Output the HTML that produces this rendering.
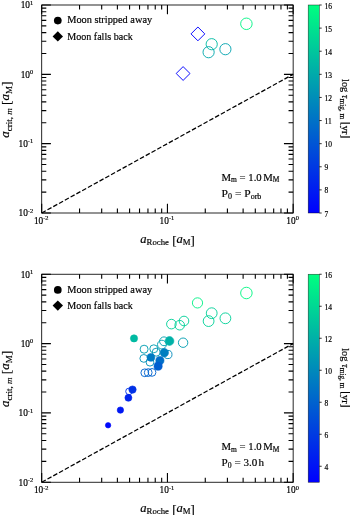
<!DOCTYPE html>
<html><head><meta charset="utf-8"><title>Figure</title>
<style>
html,body{margin:0;padding:0;background:#fff;}
body{width:350px;height:515px;overflow:hidden;}
svg{display:block;}
svg text{font-family:"Liberation Serif", "DejaVu Serif", serif;fill:#000;stroke:#000;stroke-width:0.18px;}
</style></head><body>
<svg width="350" height="515" viewBox="0 0 350 515">
<defs><linearGradient id="wint" x1="0" y1="1" x2="0" y2="0"><stop offset="0" stop-color="#0000ff"/><stop offset="1" stop-color="#00ff80"/></linearGradient></defs>
<rect width="350" height="515" fill="#fff"/>
<g id="p1">
<line x1="41.70" y1="213.00" x2="293.15" y2="74.33" stroke="#000" stroke-width="1.25" stroke-dasharray="4.6 2.0"/>
<path d="M197.9 27.0 L204.8 33.9 L197.9 40.8 L191.0 33.9 Z" fill="none" stroke="#0000ff" stroke-width="0.95"/>
<path d="M183.1 66.6 L190.0 73.5 L183.1 80.4 L176.2 73.5 Z" fill="none" stroke="#0000ff" stroke-width="0.95"/>
<circle cx="246.4" cy="23.8" r="5.75" fill="none" stroke="#00f485" stroke-width="0.92"/>
<circle cx="211.7" cy="44.2" r="5.60" fill="none" stroke="#00bba2" stroke-width="0.92"/>
<circle cx="208.6" cy="52.2" r="5.60" fill="none" stroke="#00a7ab" stroke-width="0.92"/>
<circle cx="225.4" cy="49.2" r="5.60" fill="none" stroke="#00a2ae" stroke-width="0.92"/>
<path d="M41.70 213.00v-9.2M41.70 5.00v9.2M79.55 213.00v-4.6M79.55 5.00v4.6M101.69 213.00v-4.6M101.69 5.00v4.6M117.39 213.00v-4.6M117.39 5.00v4.6M129.58 213.00v-4.6M129.58 5.00v4.6M139.53 213.00v-4.6M139.53 5.00v4.6M147.95 213.00v-4.6M147.95 5.00v4.6M155.24 213.00v-4.6M155.24 5.00v4.6M161.67 213.00v-4.6M161.67 5.00v4.6M167.43 213.00v-9.2M167.43 5.00v9.2M205.27 213.00v-4.6M205.27 5.00v4.6M227.41 213.00v-4.6M227.41 5.00v4.6M243.12 213.00v-4.6M243.12 5.00v4.6M255.30 213.00v-4.6M255.30 5.00v4.6M265.26 213.00v-4.6M265.26 5.00v4.6M273.67 213.00v-4.6M273.67 5.00v4.6M280.97 213.00v-4.6M280.97 5.00v4.6M287.40 213.00v-4.6M287.40 5.00v4.6M293.15 213.00v-9.2M293.15 5.00v9.2M41.70 213.00h9.2M293.15 213.00h-9.2M41.70 192.13h4.6M293.15 192.13h-4.6M41.70 179.92h4.6M293.15 179.92h-4.6M41.70 171.26h4.6M293.15 171.26h-4.6M41.70 164.54h4.6M293.15 164.54h-4.6M41.70 159.05h4.6M293.15 159.05h-4.6M41.70 154.41h4.6M293.15 154.41h-4.6M41.70 150.39h4.6M293.15 150.39h-4.6M41.70 146.84h4.6M293.15 146.84h-4.6M41.70 143.67h9.2M293.15 143.67h-9.2M41.70 122.80h4.6M293.15 122.80h-4.6M41.70 110.59h4.6M293.15 110.59h-4.6M41.70 101.92h4.6M293.15 101.92h-4.6M41.70 95.20h4.6M293.15 95.20h-4.6M41.70 89.71h4.6M293.15 89.71h-4.6M41.70 85.07h4.6M293.15 85.07h-4.6M41.70 81.05h4.6M293.15 81.05h-4.6M41.70 77.51h4.6M293.15 77.51h-4.6M41.70 74.33h9.2M293.15 74.33h-9.2M41.70 53.46h4.6M293.15 53.46h-4.6M41.70 41.25h4.6M293.15 41.25h-4.6M41.70 32.59h4.6M293.15 32.59h-4.6M41.70 25.87h4.6M293.15 25.87h-4.6M41.70 20.38h4.6M293.15 20.38h-4.6M41.70 15.74h4.6M293.15 15.74h-4.6M41.70 11.72h4.6M293.15 11.72h-4.6M41.70 8.17h4.6M293.15 8.17h-4.6M41.70 5.00h9.2M293.15 5.00h-9.2" stroke="#000" stroke-width="1.1" fill="none"/>
<rect x="41.70" y="5.00" width="251.45" height="208.00" fill="none" stroke="#000" stroke-width="0.85"/>
<text x="41.2" y="223.9" text-anchor="middle" font-size="9.3">10<tspan font-size="6.4" dy="-3.5">-2</tspan></text>
<text x="166.9" y="223.9" text-anchor="middle" font-size="9.3">10<tspan font-size="6.4" dy="-3.5">-1</tspan></text>
<text x="292.6" y="223.9" text-anchor="middle" font-size="9.3">10<tspan font-size="6.4" dy="-3.5">0</tspan></text>
<text x="33.2" y="216.2" text-anchor="end" font-size="9.3">10<tspan font-size="6.4" dy="-3.5">-2</tspan></text>
<text x="33.2" y="146.9" text-anchor="end" font-size="9.3">10<tspan font-size="6.4" dy="-3.5">-1</tspan></text>
<text x="33.2" y="77.6" text-anchor="end" font-size="9.3">10<tspan font-size="6.4" dy="-3.5">0</tspan></text>
<text x="33.2" y="8.2" text-anchor="end" font-size="9.3">10<tspan font-size="6.4" dy="-3.5">1</tspan></text>
<text x="140.3" y="243.3" font-size="12.8" textLength="54.5" lengthAdjust="spacingAndGlyphs"><tspan font-style="italic">a</tspan><tspan font-size="8.9" dy="2.1">Roche</tspan><tspan dy="-0.3" font-size="13"> [</tspan><tspan dy="-1.8" font-style="italic">a</tspan><tspan font-size="8.9" dy="2.1">M</tspan><tspan dy="-0.3" font-size="13">]</tspan></text>
<text transform="translate(9.4 137.8) rotate(-90)" font-size="12.8" textLength="56.3" lengthAdjust="spacingAndGlyphs"><tspan font-style="italic">a</tspan><tspan font-size="8.9" dy="2.1">crit, </tspan><tspan font-size="8.9" font-style="italic">m</tspan><tspan dy="-0.3" font-size="13"> [</tspan><tspan dy="-1.8" font-style="italic">a</tspan><tspan font-size="8.9" dy="2.1">M</tspan><tspan dy="-0.3" font-size="13">]</tspan></text>
<circle cx="57.8" cy="20.6" r="3.85" fill="#000"/>
<path d="M57.8 31.2L63.0 36.4L57.8 41.6L52.6 36.4Z" fill="#000"/>
<text x="67.2" y="23.3" font-size="10.2" textLength="85.0" lengthAdjust="spacingAndGlyphs">Moon stripped away</text>
<text x="67.2" y="39.6" font-size="10.2" textLength="65.5" lengthAdjust="spacingAndGlyphs">Moon falls back</text>
<text x="221.6" y="180.6" font-size="10.6" textLength="57.8" lengthAdjust="spacingAndGlyphs">M<tspan font-size="7.4" dy="1.7">m</tspan><tspan dy="-1.7"> = 1.0</tspan><tspan dx="1.5">M</tspan><tspan font-size="7.4" dy="1.7">M</tspan></text>
<text x="221.6" y="197.1" font-size="10.6" textLength="39.8" lengthAdjust="spacingAndGlyphs">P<tspan font-size="7.4" dy="1.7">0</tspan><tspan dy="-1.7"> = P</tspan><tspan font-size="7.4" dy="1.7">orb</tspan></text>
<rect x="308.2" y="5.00" width="11.10" height="208.00" fill="url(#wint)"/>
<rect x="308.2" y="5.00" width="11.10" height="208.00" fill="none" stroke="#000" stroke-width="0.55" stroke-opacity="0.75"/>
<text x="324.6" y="216.5" font-size="7.5">7</text>
<text x="324.6" y="193.4" font-size="7.5">8</text>
<text x="324.6" y="170.3" font-size="7.5">9</text>
<text x="324.6" y="147.2" font-size="7.5">10</text>
<text x="324.6" y="124.1" font-size="7.5">11</text>
<text x="324.6" y="100.9" font-size="7.5">12</text>
<text x="324.6" y="77.8" font-size="7.5">13</text>
<text x="324.6" y="54.7" font-size="7.5">14</text>
<text x="324.6" y="31.6" font-size="7.5">15</text>
<text x="324.6" y="8.5" font-size="7.5">16</text>
<path d="M319.30 213.00h2.4M319.30 189.89h2.4M319.30 166.78h2.4M319.30 143.67h2.4M319.30 120.56h2.4M319.30 97.44h2.4M319.30 74.33h2.4M319.30 51.22h2.4M319.30 28.11h2.4M319.30 5.00h2.4" stroke="#000" stroke-width="0.8" fill="none"/>
<text transform="translate(342.4 79.0) rotate(90)" font-size="10.4" textLength="59.3" lengthAdjust="spacingAndGlyphs">log <tspan font-style="italic">τ</tspan><tspan font-size="7.3" dy="1.9">mig, m</tspan><tspan dy="-1.6" font-size="11.5"> [</tspan><tspan dy="-0.3">yr</tspan><tspan dy="0.3" font-size="11.5">]</tspan></text>
</g>
<g id="p2">
<line x1="41.70" y1="482.25" x2="293.15" y2="343.58" stroke="#000" stroke-width="1.25" stroke-dasharray="4.6 2.0"/>
<circle cx="246.4" cy="293.0" r="5.75" fill="none" stroke="#00f783" stroke-width="0.92"/>
<circle cx="197.5" cy="302.9" r="5.10" fill="none" stroke="#00f186" stroke-width="0.92"/>
<circle cx="211.7" cy="313.2" r="5.40" fill="none" stroke="#00d097" stroke-width="0.92"/>
<circle cx="208.6" cy="321.1" r="5.40" fill="none" stroke="#00d097" stroke-width="0.92"/>
<circle cx="225.4" cy="318.3" r="5.40" fill="none" stroke="#00d097" stroke-width="0.92"/>
<circle cx="184.0" cy="321.0" r="4.80" fill="none" stroke="#00d097" stroke-width="0.92"/>
<circle cx="179.7" cy="325.2" r="4.80" fill="none" stroke="#00d097" stroke-width="0.92"/>
<circle cx="171.4" cy="324.1" r="4.80" fill="none" stroke="#00d097" stroke-width="0.92"/>
<circle cx="183.1" cy="342.7" r="4.70" fill="none" stroke="#009db1" stroke-width="0.92"/>
<circle cx="164.0" cy="341.3" r="4.40" fill="none" stroke="#00a1af" stroke-width="0.92"/>
<circle cx="161.9" cy="344.6" r="4.40" fill="none" stroke="#009db1" stroke-width="0.92"/>
<circle cx="169.5" cy="341.0" r="4.40" fill="#00b1a7" stroke="#00b1a7" stroke-width="0.6"/>
<circle cx="134.0" cy="338.4" r="3.60" fill="#00baa2" stroke="#00baa2" stroke-width="0.6"/>
<circle cx="144.1" cy="349.2" r="4.00" fill="none" stroke="#009db1" stroke-width="0.92"/>
<circle cx="153.8" cy="348.8" r="4.00" fill="none" stroke="#009db1" stroke-width="0.92"/>
<circle cx="156.2" cy="352.2" r="4.00" fill="none" stroke="#0095b4" stroke-width="0.92"/>
<circle cx="167.9" cy="354.5" r="4.10" fill="none" stroke="#0089ba" stroke-width="0.92"/>
<circle cx="143.8" cy="358.4" r="3.90" fill="none" stroke="#0091b6" stroke-width="0.92"/>
<circle cx="150.0" cy="362.2" r="3.90" fill="none" stroke="#008db8" stroke-width="0.92"/>
<circle cx="164.3" cy="352.7" r="4.20" fill="#007ec0" stroke="#007ec0" stroke-width="0.6"/>
<circle cx="150.9" cy="357.4" r="3.90" fill="#007ac2" stroke="#007ac2" stroke-width="0.6"/>
<circle cx="159.9" cy="360.5" r="4.10" fill="#006ec8" stroke="#006ec8" stroke-width="0.6"/>
<circle cx="158.1" cy="366.2" r="4.10" fill="#005ed0" stroke="#005ed0" stroke-width="0.6"/>
<circle cx="144.8" cy="372.8" r="3.90" fill="none" stroke="#0062ce" stroke-width="0.92"/>
<circle cx="148.2" cy="372.6" r="3.90" fill="none" stroke="#0062ce" stroke-width="0.92"/>
<circle cx="152.0" cy="372.4" r="3.90" fill="none" stroke="#0062ce" stroke-width="0.92"/>
<circle cx="129.0" cy="391.4" r="3.30" fill="none" stroke="#0031e6" stroke-width="0.92"/>
<circle cx="132.5" cy="389.6" r="3.70" fill="#0031e6" stroke="#0031e6" stroke-width="0.6"/>
<circle cx="128.4" cy="397.8" r="3.50" fill="#0023ed" stroke="#0023ed" stroke-width="0.6"/>
<circle cx="120.4" cy="410.1" r="3.20" fill="#0018f3" stroke="#0018f3" stroke-width="0.6"/>
<circle cx="108.1" cy="425.3" r="2.70" fill="#0008fb" stroke="#0008fb" stroke-width="0.6"/>
<path d="M41.70 482.25v-9.2M41.70 274.25v9.2M79.55 482.25v-4.6M79.55 274.25v4.6M101.69 482.25v-4.6M101.69 274.25v4.6M117.39 482.25v-4.6M117.39 274.25v4.6M129.58 482.25v-4.6M129.58 274.25v4.6M139.53 482.25v-4.6M139.53 274.25v4.6M147.95 482.25v-4.6M147.95 274.25v4.6M155.24 482.25v-4.6M155.24 274.25v4.6M161.67 482.25v-4.6M161.67 274.25v4.6M167.43 482.25v-9.2M167.43 274.25v9.2M205.27 482.25v-4.6M205.27 274.25v4.6M227.41 482.25v-4.6M227.41 274.25v4.6M243.12 482.25v-4.6M243.12 274.25v4.6M255.30 482.25v-4.6M255.30 274.25v4.6M265.26 482.25v-4.6M265.26 274.25v4.6M273.67 482.25v-4.6M273.67 274.25v4.6M280.97 482.25v-4.6M280.97 274.25v4.6M287.40 482.25v-4.6M287.40 274.25v4.6M293.15 482.25v-9.2M293.15 274.25v9.2M41.70 482.25h9.2M293.15 482.25h-9.2M41.70 461.38h4.6M293.15 461.38h-4.6M41.70 449.17h4.6M293.15 449.17h-4.6M41.70 440.51h4.6M293.15 440.51h-4.6M41.70 433.79h4.6M293.15 433.79h-4.6M41.70 428.30h4.6M293.15 428.30h-4.6M41.70 423.66h4.6M293.15 423.66h-4.6M41.70 419.64h4.6M293.15 419.64h-4.6M41.70 416.09h4.6M293.15 416.09h-4.6M41.70 412.92h9.2M293.15 412.92h-9.2M41.70 392.05h4.6M293.15 392.05h-4.6M41.70 379.84h4.6M293.15 379.84h-4.6M41.70 371.17h4.6M293.15 371.17h-4.6M41.70 364.45h4.6M293.15 364.45h-4.6M41.70 358.96h4.6M293.15 358.96h-4.6M41.70 354.32h4.6M293.15 354.32h-4.6M41.70 350.30h4.6M293.15 350.30h-4.6M41.70 346.76h4.6M293.15 346.76h-4.6M41.70 343.58h9.2M293.15 343.58h-9.2M41.70 322.71h4.6M293.15 322.71h-4.6M41.70 310.50h4.6M293.15 310.50h-4.6M41.70 301.84h4.6M293.15 301.84h-4.6M41.70 295.12h4.6M293.15 295.12h-4.6M41.70 289.63h4.6M293.15 289.63h-4.6M41.70 284.99h4.6M293.15 284.99h-4.6M41.70 280.97h4.6M293.15 280.97h-4.6M41.70 277.42h4.6M293.15 277.42h-4.6M41.70 274.25h9.2M293.15 274.25h-9.2" stroke="#000" stroke-width="1.1" fill="none"/>
<rect x="41.70" y="274.25" width="251.45" height="208.00" fill="none" stroke="#000" stroke-width="0.85"/>
<text x="41.2" y="493.1" text-anchor="middle" font-size="9.3">10<tspan font-size="6.4" dy="-3.5">-2</tspan></text>
<text x="166.9" y="493.1" text-anchor="middle" font-size="9.3">10<tspan font-size="6.4" dy="-3.5">-1</tspan></text>
<text x="292.6" y="493.1" text-anchor="middle" font-size="9.3">10<tspan font-size="6.4" dy="-3.5">0</tspan></text>
<text x="33.2" y="485.5" text-anchor="end" font-size="9.3">10<tspan font-size="6.4" dy="-3.5">-2</tspan></text>
<text x="33.2" y="416.2" text-anchor="end" font-size="9.3">10<tspan font-size="6.4" dy="-3.5">-1</tspan></text>
<text x="33.2" y="346.8" text-anchor="end" font-size="9.3">10<tspan font-size="6.4" dy="-3.5">0</tspan></text>
<text x="33.2" y="277.5" text-anchor="end" font-size="9.3">10<tspan font-size="6.4" dy="-3.5">1</tspan></text>
<text x="140.3" y="511.7" font-size="12.8" textLength="54.5" lengthAdjust="spacingAndGlyphs"><tspan font-style="italic">a</tspan><tspan font-size="8.9" dy="2.1">Roche</tspan><tspan dy="-0.3" font-size="13"> [</tspan><tspan dy="-1.8" font-style="italic">a</tspan><tspan font-size="8.9" dy="2.1">M</tspan><tspan dy="-0.3" font-size="13">]</tspan></text>
<text transform="translate(9.4 407.1) rotate(-90)" font-size="12.8" textLength="56.3" lengthAdjust="spacingAndGlyphs"><tspan font-style="italic">a</tspan><tspan font-size="8.9" dy="2.1">crit, </tspan><tspan font-size="8.9" font-style="italic">m</tspan><tspan dy="-0.3" font-size="13"> [</tspan><tspan dy="-1.8" font-style="italic">a</tspan><tspan font-size="8.9" dy="2.1">M</tspan><tspan dy="-0.3" font-size="13">]</tspan></text>
<circle cx="57.8" cy="289.9" r="3.85" fill="#000"/>
<path d="M57.8 300.4L63.0 305.6L57.8 310.8L52.6 305.6Z" fill="#000"/>
<text x="67.2" y="292.6" font-size="10.2" textLength="85.0" lengthAdjust="spacingAndGlyphs">Moon stripped away</text>
<text x="67.2" y="308.9" font-size="10.2" textLength="65.5" lengthAdjust="spacingAndGlyphs">Moon falls back</text>
<text x="221.6" y="449.9" font-size="10.6" textLength="57.8" lengthAdjust="spacingAndGlyphs">M<tspan font-size="7.4" dy="1.7">m</tspan><tspan dy="-1.7"> = 1.0</tspan><tspan dx="1.5">M</tspan><tspan font-size="7.4" dy="1.7">M</tspan></text>
<text x="221.6" y="466.4" font-size="10.6" textLength="42.4" lengthAdjust="spacingAndGlyphs">P<tspan font-size="7.4" dy="1.7">0</tspan><tspan dy="-1.7"> = 3.0</tspan><tspan dx="1.2">h</tspan></text>
<rect x="308.2" y="274.25" width="11.10" height="208.00" fill="url(#wint)"/>
<rect x="308.2" y="274.25" width="11.10" height="208.00" fill="none" stroke="#000" stroke-width="0.55" stroke-opacity="0.75"/>
<text x="324.6" y="469.8" font-size="7.5">4</text>
<text x="324.6" y="437.8" font-size="7.5">6</text>
<text x="324.6" y="405.8" font-size="7.5">8</text>
<text x="324.6" y="373.8" font-size="7.5">10</text>
<text x="324.6" y="341.8" font-size="7.5">12</text>
<text x="324.6" y="309.8" font-size="7.5">14</text>
<text x="324.6" y="277.8" font-size="7.5">16</text>
<path d="M319.30 466.25h2.4M319.30 434.25h2.4M319.30 402.25h2.4M319.30 370.25h2.4M319.30 338.25h2.4M319.30 306.25h2.4M319.30 274.25h2.4" stroke="#000" stroke-width="0.8" fill="none"/>
<text transform="translate(342.4 348.2) rotate(90)" font-size="10.4" textLength="59.3" lengthAdjust="spacingAndGlyphs">log <tspan font-style="italic">τ</tspan><tspan font-size="7.3" dy="1.9">mig, m</tspan><tspan dy="-1.6" font-size="11.5"> [</tspan><tspan dy="-0.3">yr</tspan><tspan dy="0.3" font-size="11.5">]</tspan></text>
</g>
</svg>
</body></html>
